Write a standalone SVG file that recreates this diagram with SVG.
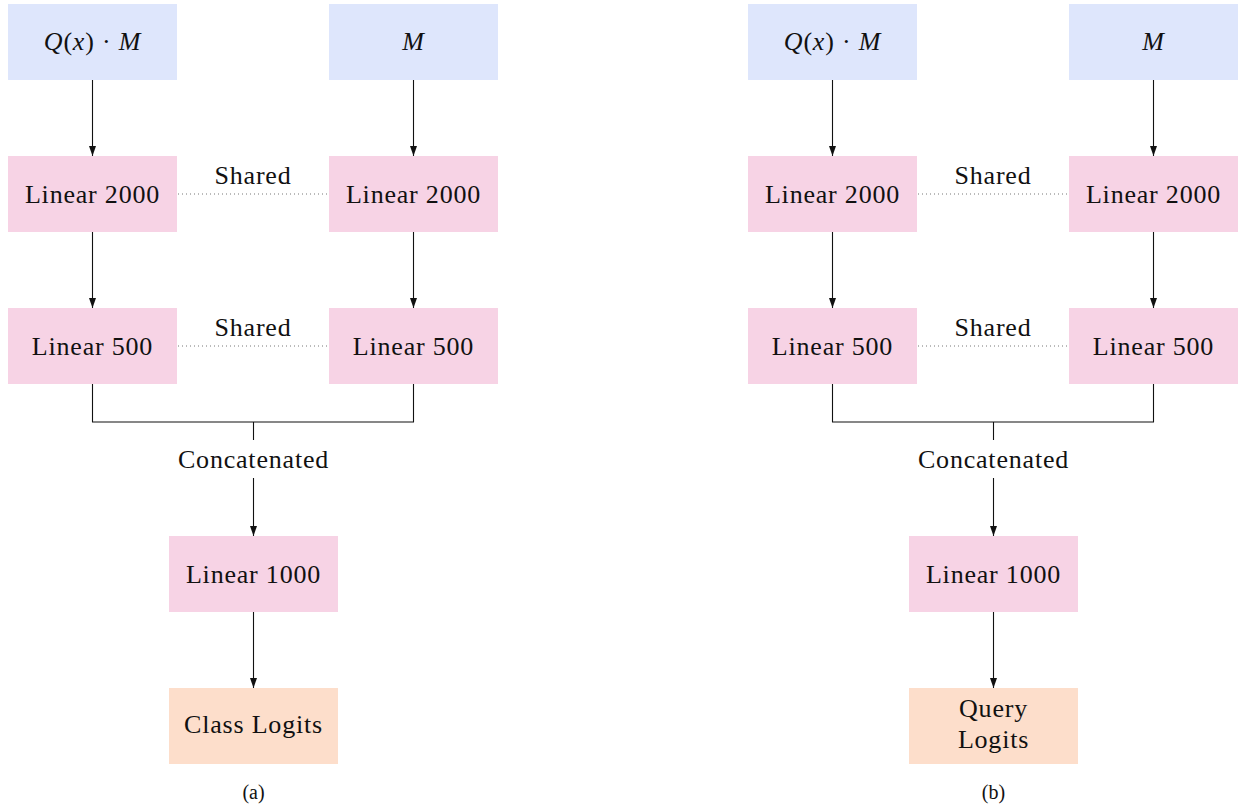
<svg xmlns="http://www.w3.org/2000/svg" width="1240" height="807" viewBox="0 0 1240 807">
<style>
.in{fill:#dee6fc}
.lin{fill:#f7d3e5}
.out{fill:#fddecb}
text{font-family:"Liberation Serif","Times New Roman",serif;font-size:26px;fill:#111;text-anchor:middle;letter-spacing:0.8px}
.it{font-style:italic}
.cap{font-size:20px;letter-spacing:0}
.edge{stroke:#111;stroke-width:1.1;fill:none}
.dot{stroke:#777;stroke-width:1;stroke-dasharray:1 3;fill:none}
</style>
<defs>
<marker id="ah" markerUnits="userSpaceOnUse" markerWidth="10" markerHeight="8" refX="10" refY="4" orient="auto">
<path d="M0,0.5 L10,4 L0,7.5 z" fill="#111"/>
</marker>
</defs>

<g id="panel-a">
<g id="a-in1"><rect class="in" x="8" y="4" width="169" height="76"/><text x="92.5" y="50"><tspan class="it">Q</tspan>(<tspan class="it">x</tspan>) · <tspan class="it">M</tspan></text></g>
<g id="a-in2"><rect class="in" x="329" y="4" width="169" height="76"/><text x="413.5" y="50" class="it">M</text></g>
<g id="a-l2000a"><rect class="lin" x="8" y="156" width="169" height="76"/><text x="92.5" y="203">Linear 2000</text></g>
<g id="a-l2000b"><rect class="lin" x="329" y="156" width="169" height="76"/><text x="413.5" y="203">Linear 2000</text></g>
<g id="a-l500a"><rect class="lin" x="8" y="308" width="169" height="76"/><text x="92.5" y="355">Linear 500</text></g>
<g id="a-l500b"><rect class="lin" x="329" y="308" width="169" height="76"/><text x="413.5" y="355">Linear 500</text></g>
<g id="a-l1000"><rect class="lin" x="169" y="536" width="169" height="76"/><text x="253.5" y="583">Linear 1000</text></g>
<g id="a-logits"><rect class="out" x="169" y="688" width="169" height="76"/><text x="253.5" y="733">Class Logits</text></g>
<text x="253.5" y="799" class="cap">(a)</text>
</g>

<g id="panel-b">
<g id="b-in1"><rect class="in" x="748" y="4" width="169" height="76"/><text x="832.5" y="50"><tspan class="it">Q</tspan>(<tspan class="it">x</tspan>) · <tspan class="it">M</tspan></text></g>
<g id="b-in2"><rect class="in" x="1069" y="4" width="169" height="76"/><text x="1153.5" y="50" class="it">M</text></g>
<g id="b-l2000a"><rect class="lin" x="748" y="156" width="169" height="76"/><text x="832.5" y="203">Linear 2000</text></g>
<g id="b-l2000b"><rect class="lin" x="1069" y="156" width="169" height="76"/><text x="1153.5" y="203">Linear 2000</text></g>
<g id="b-l500a"><rect class="lin" x="748" y="308" width="169" height="76"/><text x="832.5" y="355">Linear 500</text></g>
<g id="b-l500b"><rect class="lin" x="1069" y="308" width="169" height="76"/><text x="1153.5" y="355">Linear 500</text></g>
<g id="b-l1000"><rect class="lin" x="909" y="536" width="169" height="76"/><text x="993.5" y="583">Linear 1000</text></g>
<g id="b-logits"><rect class="out" x="909" y="688" width="169" height="76"/><text x="993.5" y="717">Query</text><text x="993.5" y="748">Logits</text></g>
<text x="993.5" y="799" class="cap">(b)</text>
</g>

<g id="connectors">
<line class="edge" x1="92.5" y1="80" x2="92.5" y2="156" marker-end="url(#ah)"/>
<line class="edge" x1="413.5" y1="80" x2="413.5" y2="156" marker-end="url(#ah)"/>
<line class="edge" x1="92.5" y1="232" x2="92.5" y2="308" marker-end="url(#ah)"/>
<line class="edge" x1="413.5" y1="232" x2="413.5" y2="308" marker-end="url(#ah)"/>
<line class="dot" x1="178" y1="194" x2="328" y2="194"/>
<text x="253" y="184">Shared</text>
<line class="dot" x1="178" y1="346" x2="328" y2="346"/>
<text x="253" y="336">Shared</text>
<polyline class="edge" points="92.5,384 92.5,422 413.5,422 413.5,384"/>
<line class="edge" x1="253.5" y1="422" x2="253.5" y2="440"/>
<text x="253.5" y="468">Concatenated</text>
<line class="edge" x1="253.5" y1="478" x2="253.5" y2="536" marker-end="url(#ah)"/>
<line class="edge" x1="253.5" y1="612" x2="253.5" y2="688" marker-end="url(#ah)"/>

<line class="edge" x1="832.5" y1="80" x2="832.5" y2="156" marker-end="url(#ah)"/>
<line class="edge" x1="1153.5" y1="80" x2="1153.5" y2="156" marker-end="url(#ah)"/>
<line class="edge" x1="832.5" y1="232" x2="832.5" y2="308" marker-end="url(#ah)"/>
<line class="edge" x1="1153.5" y1="232" x2="1153.5" y2="308" marker-end="url(#ah)"/>
<line class="dot" x1="918" y1="194" x2="1068" y2="194"/>
<text x="993" y="184">Shared</text>
<line class="dot" x1="918" y1="346" x2="1068" y2="346"/>
<text x="993" y="336">Shared</text>
<polyline class="edge" points="832.5,384 832.5,422 1153.5,422 1153.5,384"/>
<line class="edge" x1="993.5" y1="422" x2="993.5" y2="440"/>
<text x="993.5" y="468">Concatenated</text>
<line class="edge" x1="993.5" y1="478" x2="993.5" y2="536" marker-end="url(#ah)"/>
<line class="edge" x1="993.5" y1="612" x2="993.5" y2="688" marker-end="url(#ah)"/>
</g>
</svg>
